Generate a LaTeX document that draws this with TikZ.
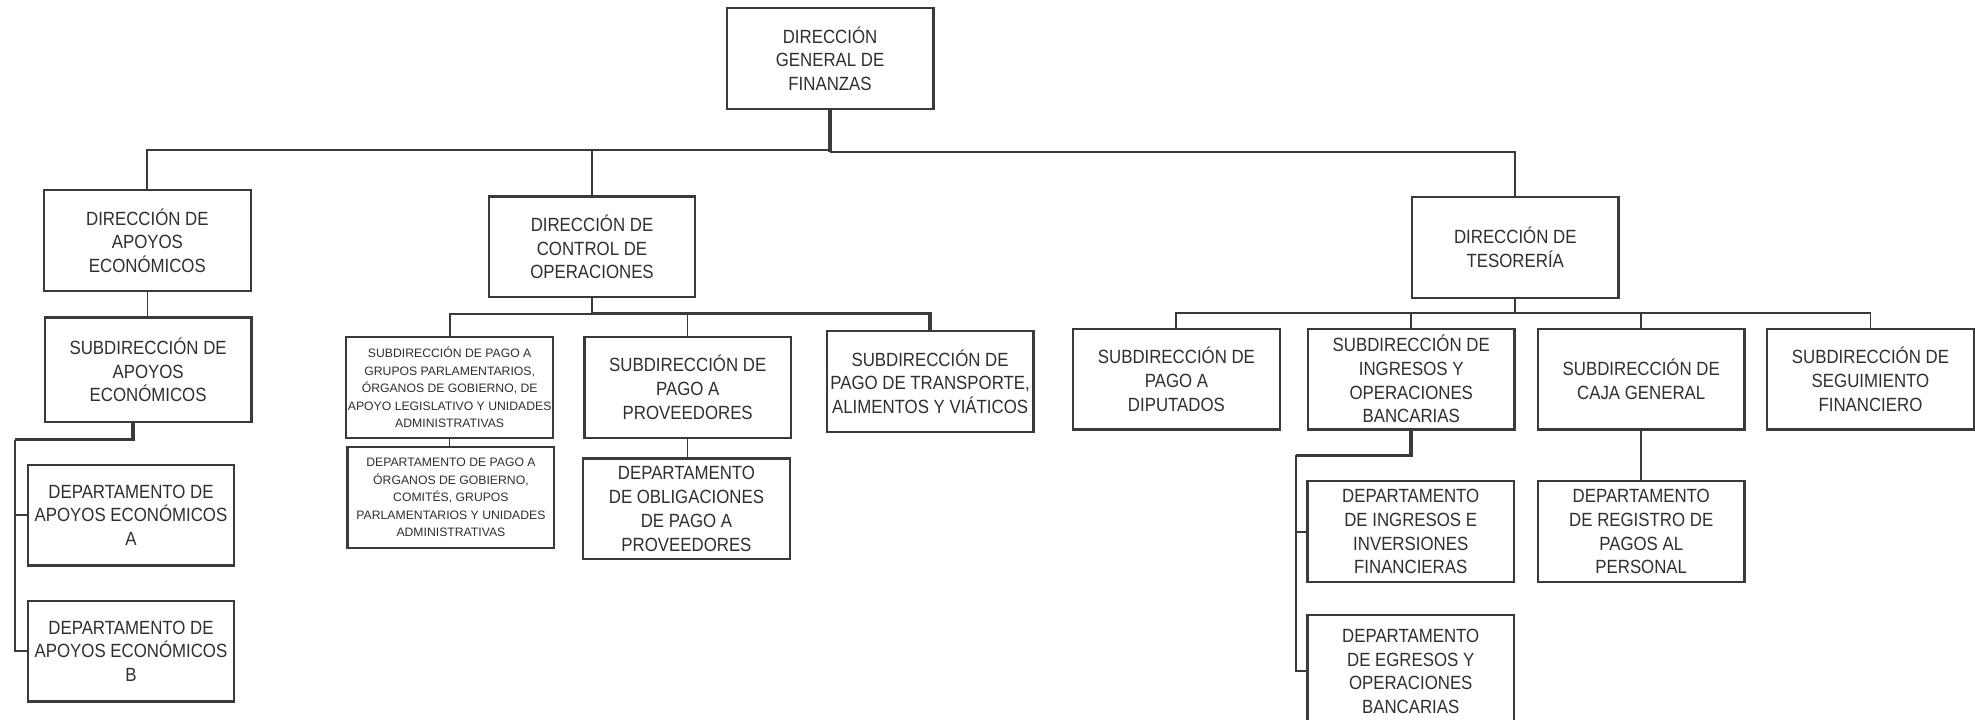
\documentclass[tikz,border=0pt]{standalone}
\usepackage{fontspec}
\setmainfont{Liberation Sans}
\newfontfamily\angosta[FakeStretch=0.88]{Liberation Sans}
\usepackage{tikz}
\usetikzlibrary{positioning}
\definecolor{borde}{HTML}{3A3A3A}
\definecolor{texto}{HTML}{2E2E2E}

\begin{document}
\begin{tikzpicture}[
caja/.style={rectangle,draw=borde,line width=1.3pt,minimum width=4.1cm,minimum height=2cm,align=center,inner sep=1pt,outer sep=0pt,text=texto,font=\angosta\fontsize{10.8}{13.4}\selectfont},
chica/.style={caja,font=\fontsize{6.9}{9.9}\selectfont},
fina/.style={draw=borde,line width=0.6pt},
media/.style={draw=borde,line width=1.1pt},
gruesa/.style={draw=borde,line width=2pt}]
\useasboundingbox (0,0) rectangle (39.2,-14.275);

\node[caja] (dgf) at (16.475,-1.1625) {DIRECCIÓN\\GENERAL DE\\FINANZAS};

\node[caja] (dae) at (2.925,-4.775) {DIRECCIÓN DE\\APOYOS\\ECONÓMICOS};
\node[caja,minimum height=2.075cm] (sae) at (2.94,-7.34) {SUBDIRECCIÓN DE\\APOYOS\\ECONÓMICOS};
\node[caja] (depa) at (2.6,-10.225) {DEPARTAMENTO DE\\APOYOS ECONÓMICOS\\A};
\node[caja] (depb) at (2.6,-12.925) {DEPARTAMENTO DE\\APOYOS ECONÓMICOS\\B};

\node[caja] (dco) at (11.75,-4.9) {DIRECCIÓN DE\\CONTROL DE\\OPERACIONES};
\node[chica] (spgp) at (8.925,-7.69) {SUBDIRECCIÓN DE PAGO A\\GRUPOS PARLAMENTARIOS,\\ÓRGANOS DE GOBIERNO, DE\\APOYO LEGISLATIVO Y UNIDADES\\ADMINISTRATIVAS};
\node[chica] (dpgp) at (8.95,-9.875) {DEPARTAMENTO DE PAGO A\\ÓRGANOS DE GOBIERNO,\\COMITÉS, GRUPOS\\PARLAMENTARIOS Y UNIDADES\\ADMINISTRATIVAS};
\node[caja] (spp) at (13.65,-7.69) {SUBDIRECCIÓN DE\\PAGO A\\PROVEEDORES};
\node[caja] (dopp) at (13.625,-10.1) {DEPARTAMENTO\\DE OBLIGACIONES\\DE PAGO A\\PROVEEDORES};
\node[caja] (sptav) at (18.46,-7.575) {SUBDIRECCIÓN DE\\PAGO DE TRANSPORTE,\\ALIMENTOS Y VIÁTICOS};

\node[caja] (dt) at (30.075,-4.9125) {DIRECCIÓN DE\\TESORERÍA};
\node[caja] (spd) at (23.35,-7.525) {SUBDIRECCIÓN DE\\PAGO A\\DIPUTADOS};
\node[caja] (siob) at (28.01,-7.525) {SUBDIRECCIÓN DE\\INGRESOS Y\\OPERACIONES\\BANCARIAS};
\node[caja] (scg) at (32.575,-7.525) {SUBDIRECCIÓN DE\\CAJA GENERAL};
\node[caja] (ssf) at (37.125,-7.525) {SUBDIRECCIÓN DE\\SEGUIMIENTO\\FINANCIERO};
\node[caja] (diif) at (28.0,-10.55) {DEPARTAMENTO\\DE INGRESOS E\\INVERSIONES\\FINANCIERAS};
\node[caja] (drpp) at (32.575,-10.55) {DEPARTAMENTO\\DE REGISTRO DE\\PAGOS AL\\PERSONAL};
\node[caja,minimum height=2.25cm] (deob) at (28.0,-13.325) {DEPARTAMENTO\\DE EGRESOS Y\\OPERACIONES\\BANCARIAS};

\coordinate (bus) at (16.475,-2.975);
\coordinate (busb) at (16.475,-3.02);
\draw[media] (dae.north) |- (bus);
\draw[media] (busb) -| (dt.north);
\draw[fina] (dco.north) -- (dco.north |- bus);
\draw[gruesa] (dgf.south) -- (busb);

\draw[fina] (dae.south) -- (dae.south |- sae.north);
\coordinate (codo1) at (0.3,-8.725);
\draw[gruesa] ([xshift=-0.3cm]sae.south) |- (codo1);
\draw[media] (codo1) |- (depb.west);
\draw[media] (codo1 |- depa.west) -- (depa.west);

\coordinate (bus2) at (11.75,-6.225);
\draw[media] (dco.south) -- (bus2) -| (spgp.north);
\draw[gruesa] (bus2) -| (sptav.north);
\draw[fina] (spp.north) -- (spp.north |- bus2);
\draw[fina] (spgp.south) -- (spgp.south |- dpgp.north);
\draw[fina] (spp.south) -- (spp.south |- dopp.north);

\coordinate (bus3) at (30.075,-6.2125);
\draw[media] (dt.south) -- (bus3);
\draw[media] (spd.north) |- (bus3) -| (ssf.north);
\draw[media] (siob.north) -- (siob.north |- bus3);
\draw[media] (scg.north) -- (scg.north |- bus3);
\coordinate (codo2) at (25.725,-9.0375);
\draw[gruesa] (siob.south) |- (codo2);
\draw[media] (codo2) |- (deob.west);
\draw[media] (codo2 |- diif.west) -- (diif.west);
\draw[media] (scg.south) -- (scg.south |- drpp.north);

\end{tikzpicture}
\end{document}
